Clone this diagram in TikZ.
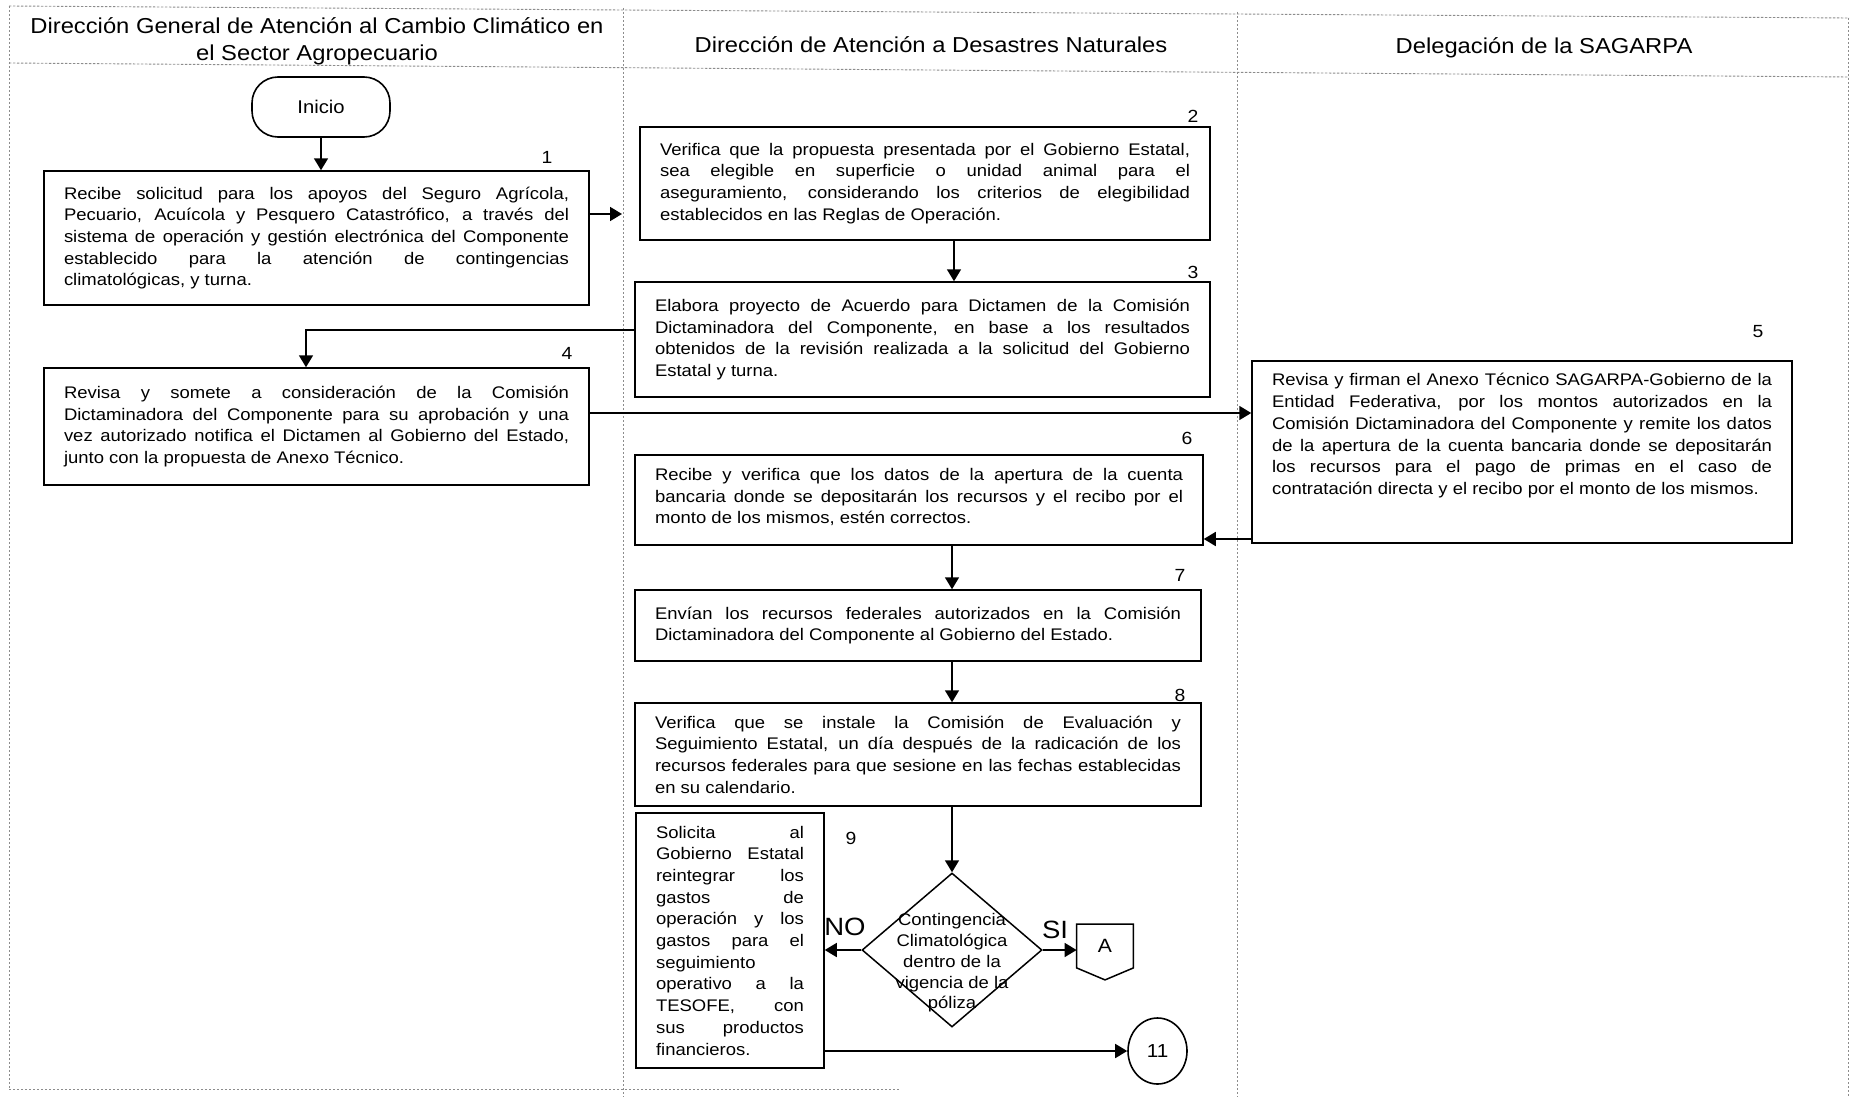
\documentclass[tikz,border=0pt]{standalone}
\usepackage{fontspec}
\setmainfont{Liberation Sans}[FakeStretch=1.1]
\usetikzlibrary{arrows.meta,shapes.geometric,calc}
\newcommand\flowfont{\fontsize{8.4}{10.85}\selectfont\hyphenpenalty=10000\exhyphenpenalty=10000\tolerance=10000\relax}
\begin{document}
\begin{tikzpicture}[x=0.5pt,y=-0.5pt,
  lane/.style={draw=black!45, line width=0.45pt, dash pattern=on 1.2pt off 0.8pt},
  box/.style={draw, line width=0.75pt, rectangle, inner xsep=10pt, inner ysep=2pt, align=justify, font=\flowfont},
  conn/.style={line width=0.85pt, -{Triangle[length=6pt,width=7pt]}},
  num/.style={font=\fontsize{8.8}{10}\selectfont, inner sep=0pt},
  head/.style={font=\fontsize{10.8}{13.5}\selectfont, align=center, inner sep=0pt},
  yn/.style={font=\fontsize{12.5}{13}\selectfont, inner sep=0pt},
]
\useasboundingbox (0,0) rectangle (1850,1097);
% lanes
\draw[lane] (9,6) -- (1849,18);
\draw[lane] (9,63) -- (1849,77);
\draw[lane] (9,1089) -- (900,1089);
\draw[lane] (9,6) -- (9,1089);
\draw[lane] (623,8) -- (623,1097);
\draw[lane] (1237,12) -- (1237,1097);
\draw[lane] (1848,18) -- (1848,1097);
% headers
\node[head] (h1) at (317,41) {Dirección General de Atención al Cambio Climático en\\el Sector Agropecuario};
\node[head] (h2) at (931,45) {Dirección de Atención a Desastres Naturales};
\node[head] (h3) at (1544,48) {Delegación de la SAGARPA};
% start
\node[draw, line width=0.8pt, rounded corners=13pt, minimum width=69pt, minimum height=30pt, font=\fontsize{9.2}{11}\selectfont] (inicio) at (321,107) {Inicio};
% boxes
\node[box, text width=252.5pt, minimum height=67pt] (b1) at (316.5,238) {Recibe solicitud para los apoyos del Seguro Agrícola,\linebreak Pecuario, Acuícola y Pesquero Catastrófico, a través del\linebreak sistema de operación y gestión electrónica del Componente\linebreak establecido para la atención de contingencias\linebreak climatológicas, y turna.};
\node[box, text width=265pt, minimum height=56.5pt] (b2) at (925,183.5) {Verifica que la propuesta presentada por el Gobierno Estatal,\linebreak sea elegible en superficie o unidad animal para el\linebreak aseguramiento, considerando los criterios de elegibilidad\linebreak establecidos en las Reglas de Operación.};
\node[box, text width=267.5pt, minimum height=57.5pt] (b3) at (922.5,339.5) {Elabora proyecto de Acuerdo para Dictamen de la Comisión\linebreak Dictaminadora del Componente, en base a los resultados\linebreak obtenidos de la revisión realizada a la solicitud del Gobierno\linebreak Estatal y turna.};
\node[box, text width=252.5pt, minimum height=58.5pt] (b4) at (316.5,426.5) {Revisa y somete a consideración de la Comisión\linebreak Dictaminadora del Componente para su aprobación y una\linebreak vez autorizado notifica el Dictamen al Gobierno del Estado,\linebreak junto con la propuesta de Anexo Técnico.};
\node[box, text width=250pt, minimum height=91pt] (b5) at (1522,452) {Revisa y firman el Anexo Técnico SAGARPA-Gobierno de la\linebreak Entidad Federativa, por los montos autorizados en la\linebreak Comisión Dictaminadora del Componente y remite los datos\linebreak de la apertura de la cuenta bancaria donde se depositarán\linebreak los recursos para el pago de primas en el caso de\linebreak contratación directa y el recibo por el monto de los mismos.\rule[-18pt]{0pt}{18pt}};
\node[box, text width=264pt, minimum height=45pt] (b6) at (919,500) {Recibe y verifica que los datos de la apertura de la cuenta\linebreak bancaria donde se depositarán los recursos y el recibo por el\linebreak monto de los mismos, estén correctos.\rule[-4pt]{0pt}{4pt}};
\node[box, text width=263pt, minimum height=35.5pt] (b7) at (918,625.5) {Envían los recursos federales autorizados en la Comisión\linebreak Dictaminadora del Componente al Gobierno del Estado.};
\node[box, text width=263pt, minimum height=51.5pt] (b8) at (918,754.5) {Verifica que se instale la Comisión de Evaluación y\linebreak Seguimiento Estatal, un día después de la radicación de los\linebreak recursos federales para que sesione en las fechas establecidas\linebreak en su calendario.};
\node[box, text width=74pt, minimum height=127.5pt] (b9) at (730,940.5) {Solicita al\linebreak Gobierno Estatal\linebreak reintegrar los\linebreak gastos de\linebreak operación y los\linebreak gastos para el\linebreak seguimiento\linebreak operativo a la\linebreak TESOFE, con\linebreak sus productos\linebreak financieros.};
% decision
\node[diamond, draw, line width=0.75pt, minimum width=90pt, minimum height=77pt, inner sep=0pt] (d) at (952,950) {};
\node[font=\fontsize{8.4}{10.4}\selectfont, align=center, inner sep=0pt] (dt) at (952,963) {Contingencia\\Climatológica\\dentro de la\\vigencia de la\\póliza};
% connector A
\node[minimum width=28pt, minimum height=21.5pt, inner sep=0pt, font=\fontsize{9.6}{11}\selectfont] (A) at (1105,946) {A};
\draw[line width=0.75pt] (A.north west) -- (A.north east) -- (A.south east) -- ($(A.south)+(0,12)$) -- (A.south west) -- cycle;
% circle 11
\node[ellipse, draw, line width=0.8pt, minimum width=29.5pt, minimum height=33pt, inner sep=0pt, font=\fontsize{9.4}{11}\selectfont] (c11) at (1157.5,1051) {11};
% numbers
\node[num] (n1) at (547,157) {1};
\node[num] (n2) at (1193,116) {2};
\node[num] (n3) at (1193,272) {3};
\node[num] (n4) at (567,353) {4};
\node[num] (n5) at (1758,332) {5};
\node[num] (n6) at (1187,438) {6};
\node[num] (n7) at (1180,575) {7};
\node[num] (n8) at (1180,695) {8};
\node[num] (n9) at (851,838) {9};
\node[yn] (no) at (845,927) {NO};
\node[yn] (si) at (1055,930) {SI};
% helper coordinates
\coordinate (y214) at (0,214);
\coordinate (lane2) at (622,214);
\coordinate (x954) at (954,0);
\coordinate (y330) at (0,330);
\coordinate (x306) at (306,0);
\coordinate (y413) at (0,413);
\coordinate (y539) at (0,539);
\coordinate (x952) at (952,0);
% connectors
\draw[conn] (inicio.south) -- (inicio.south |- b1.north);
\draw[conn] (b1.east |- y214) -- (lane2);
\draw[conn] (b2.south -| x954) -- (b3.north -| x954);
\draw[conn] (b3.west |- y330) -| (b4.north -| x306);
\draw[conn] (b4.east |- y413) -- (b5.west |- y413);
\draw[conn] (b5.west |- y539) -- (b6.east |- y539);
\draw[conn] (b6.south -| x952) -- (b7.north -| x952);
\draw[conn] (b7.south -| x952) -- (b8.north -| x952);
\draw[conn] (b8.south -| x952) -- (d.north);
\draw[conn] (d.west) -- (b9.east |- d.west);
\draw[conn] (d.east) -- (A.west |- d.east);
\draw[conn] (b9.east |- c11.west) -- (c11.west);
\end{tikzpicture}
\end{document}
